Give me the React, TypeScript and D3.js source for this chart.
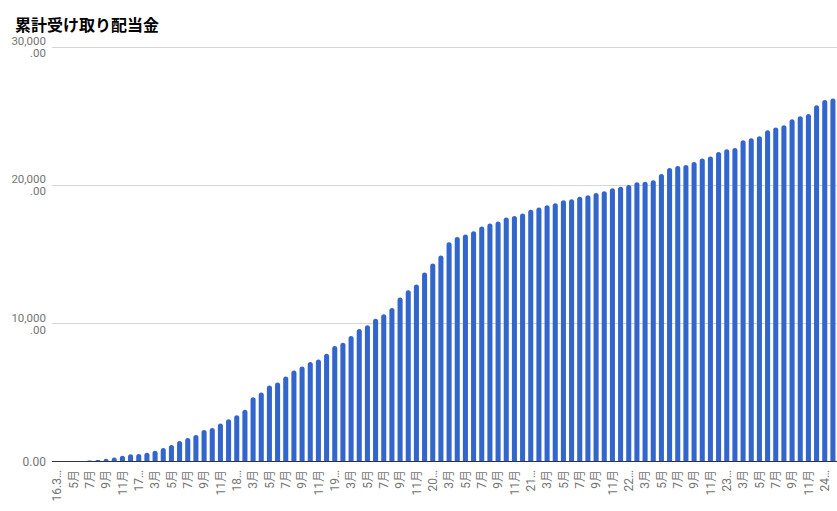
import React from "react";
import * as d3 from "d3";

const title = "累計受け取り配当金";

const categories: string[] = [
  "2016/03", "2016/04", "2016/05", "2016/06", "2016/07", "2016/08", "2016/09", "2016/10", "2016/11", "2016/12",
  "2017/01", "2017/02", "2017/03", "2017/04", "2017/05", "2017/06", "2017/07", "2017/08", "2017/09", "2017/10", "2017/11", "2017/12",
  "2018/01", "2018/02", "2018/03", "2018/04", "2018/05", "2018/06", "2018/07", "2018/08", "2018/09", "2018/10", "2018/11", "2018/12",
  "2019/01", "2019/02", "2019/03", "2019/04", "2019/05", "2019/06", "2019/07", "2019/08", "2019/09", "2019/10", "2019/11", "2019/12",
  "2020/01", "2020/02", "2020/03", "2020/04", "2020/05", "2020/06", "2020/07", "2020/08", "2020/09", "2020/10", "2020/11", "2020/12",
  "2021/01", "2021/02", "2021/03", "2021/04", "2021/05", "2021/06", "2021/07", "2021/08", "2021/09", "2021/10", "2021/11", "2021/12",
  "2022/01", "2022/02", "2022/03", "2022/04", "2022/05", "2022/06", "2022/07", "2022/08", "2022/09", "2022/10", "2022/11", "2022/12",
  "2023/01", "2023/02", "2023/03", "2023/04", "2023/05", "2023/06", "2023/07", "2023/08", "2023/09", "2023/10", "2023/11", "2023/12",
  "2024/01", "2024/02",
];

const values: number[] = [
  0, 0, 0, 0, 70, 100, 190, 290, 410, 530,
  540, 630, 770, 970, 1190, 1480, 1700, 1910, 2280, 2420, 2740, 3050,
  3350, 3750, 4650, 4990, 5490, 5710, 6150, 6580, 6870, 7190, 7380, 7790,
  8350, 8590, 9080, 9580, 9850, 10320, 10650, 11110, 11860, 12390, 12800, 13670,
  14320, 14900, 15850, 16240, 16410, 16650, 16990, 17210, 17350, 17640, 17760, 17930,
  18200, 18370, 18540, 18680, 18900, 18970, 19140, 19260, 19410, 19550, 19770, 19870,
  19990, 20200, 20230, 20350, 20790, 21220, 21370, 21440, 21660, 21920, 22050, 22380,
  22580, 22670, 23230, 23380, 23520, 23960, 24150, 24320, 24760, 24970, 25140, 25770,
  26140, 26260,
];

// tick label shown under every second bar, starting at the first
const xTickLabels: string[] = [
  "16.3…", "5月", "7月", "9月", "11月",
  "17…", "3月", "5月", "7月", "9月", "11月",
  "18…", "3月", "5月", "7月", "9月", "11月",
  "19…", "3月", "5月", "7月", "9月", "11月",
  "20…", "3月", "5月", "7月", "9月", "11月",
  "21…", "3月", "5月", "7月", "9月", "11月",
  "22…", "3月", "5月", "7月", "9月", "11月",
  "23…", "3月", "5月", "7月", "9月", "11月",
  "24…",
];

const yTicks: number[] = [0, 10000, 20000, 30000];

const W = 837;
const H = 511;
const plotLeft = 52;
const plotRight = 837;
const baseY = 461.5;
const topY = 46.7;

function barPath(x: number, w: number, y0: number, y1: number, r: number) {
  const h = y0 - y1;
  if (h <= 0) return "";
  const rr = Math.min(r, h, w / 2);
  return `M${x},${y0} L${x},${y1 + rr} Q${x},${y1} ${x + rr},${y1} L${x + w - rr},${y1} Q${x + w},${y1} ${x + w},${y1 + rr} L${x + w},${y0} Z`;
}

export default function App() {
  const x = d3
    .scaleBand<string>()
    .domain(categories)
    .range([53, 837])
    .paddingInner(0.38)
    .paddingOuter(0.19);
  const y = d3.scaleLinear().domain([0, 30000]).range([baseY, topY]);
  const bw = x.bandwidth();
  const fmt = d3.format(",");

  return (
    <svg
      width={W}
      height={H}
      style={{ position: "absolute", left: 0, top: 0, background: "#fff" }}
      fontFamily="Roboto, 'Noto Sans CJK JP', sans-serif"
    >
      <rect x={0} y={0} width={W} height={H} fill="#fff" />
      <text
        x={15}
        y={31}
        fontSize={16}
        fontWeight="bold"
        fill="#000"
        fontFamily="'Noto Sans CJK JP', sans-serif"
      >
        {title}
      </text>
      {yTicks.map((t) => (
        <g key={t}>
          {t !== 0 && (
            <line
              x1={plotLeft}
              x2={plotRight}
              y1={Math.round(y(t)) + 0.5}
              y2={Math.round(y(t)) + 0.5}
              stroke="#d6d6d6"
              strokeWidth={1}
            />
          )}
          {t === 0 ? (
            <text x={46} y={y(t)} dy="0.35em" textAnchor="end" fontSize={12} fill="#757575">
              0.00
            </text>
          ) : (
            <g>
              <text x={46} y={y(t) - 1.5} textAnchor="end" fontSize={11.5} fill="#757575">
                {fmt(t)}
              </text>
              <text x={46} y={y(t) + 10.5} textAnchor="end" fontSize={11.5} fill="#757575">
                .00
              </text>
            </g>
          )}
        </g>
      ))}
      {values.map((v, i) => {
        const bx = x(categories[i]) as number;
        return (
          <path key={i} d={barPath(bx, bw, baseY, y(v), 2.5)} fill="#3366cc" />
        );
      })}
      <line x1={plotLeft} x2={plotRight} y1={baseY} y2={baseY} stroke="#333" strokeWidth={1} />
      {xTickLabels.map((lab, j) => {
        const cat = categories[j * 2];
        const cx = (x(cat) as number) + bw / 2;
        return (
          <text
            key={j}
            transform={`translate(${cx},470) rotate(-90)`}
            textAnchor="end"
            dy="0.35em"
            fontSize={12}
            fill="#757575"
          >
            {lab}
          </text>
        );
      })}
    </svg>
  );
}
